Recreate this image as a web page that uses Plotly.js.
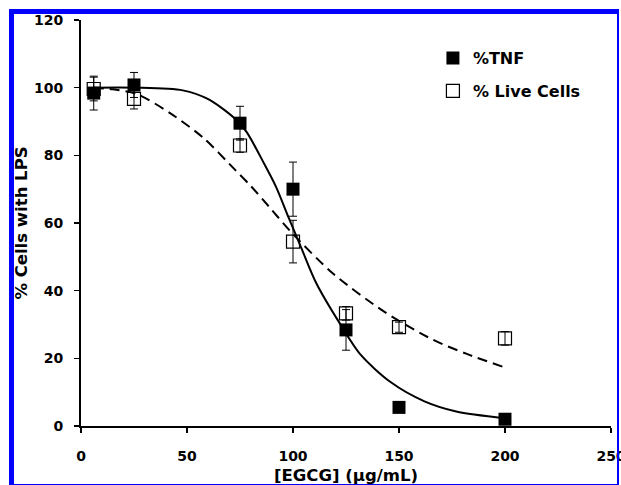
<!DOCTYPE html>
<html>
<head>
<meta charset="utf-8">
<script src="https://cdn.plot.ly/plotly-3.0.1.min.js"></script>
<style>
  html, body { margin: 0; padding: 0; background: #ffffff; }
  #chart { position: absolute; left: 0; top: 0; width: 621px; height: 485px; }
  #frame { position: absolute; left: 9px; top: 9px; width: 610px; height: 476px; box-sizing: border-box;
           border-left: 5px solid #0000ff; border-top: 5px solid #0000ff; border-right: 2px solid #0000ff;
           border-bottom: 1px solid #0000ff; pointer-events: none; }
</style>
</head>
<body>
<div id="chart"></div>
<div id="frame"></div>
<script>
// Measured data
const doseX = [6, 25, 75, 100, 125, 150, 200];
const tnfY = [98.4, 100.8, 89.5, 70, 28.4, 5.5, 2.0];
const tnfErr = [5, 3.7, 5, 8, 6, 0, 0];
const liveY = [99.6, 96.7, 82.9, 54.5, 33.3, 29.2, 25.9];
const liveErr = [3.5, 3, 2, 6.3, 2, 1.5, 2];

// Fitted curves
const tnfFitX = [6, 26, 48, 60, 72, 78, 86, 92, 98, 104, 111, 122, 132, 146, 162, 177, 200];
const tnfFitY = [100, 100, 99.2, 96.6, 91.2, 87, 78, 70.7, 61.5, 52.5, 42.2, 30.4, 21, 13, 7.3, 4.3, 2.3];
const liveFitX = [6, 15, 26, 42, 58, 73, 80, 89, 99, 119, 143, 166, 182, 199];
const liveFitY = [100, 99.5, 98.2, 92.5, 85, 75.5, 71, 64.6, 57.4, 45, 33.8, 25.5, 21.3, 17.5];

const xTicks = [0, 50, 100, 150, 200, 250];
const yTicks = [0, 20, 40, 60, 80, 100, 120];

const traces = [
  { x: tnfFitX, y: tnfFitY, mode: 'lines', type: 'scatter', showlegend: false, hoverinfo: 'skip',
    line: { color: '#000000', width: 2, shape: 'spline', smoothing: 0.8 } },
  { x: liveFitX, y: liveFitY, mode: 'lines', type: 'scatter', showlegend: false, hoverinfo: 'skip',
    line: { color: '#000000', width: 2, dash: '10px,6px', shape: 'spline', smoothing: 0.8 } },
  { x: doseX, y: liveY, name: '% Live Cells', mode: 'markers', type: 'scatter', legendgroup: 'b', legendrank: 2,
    marker: { symbol: 'square-open', size: 13, color: '#000000', line: { width: 1.2, color: '#000000' } },
    error_y: { type: 'data', array: liveErr, visible: true, color: '#000000', thickness: 1, width: 4 } },
  { x: doseX, y: tnfY, name: '%TNF', mode: 'markers', type: 'scatter', legendgroup: 'a', legendrank: 1,
    marker: { symbol: 'square', size: 13, color: '#000000' },
    error_y: { type: 'data', array: tnfErr, visible: true, color: '#000000', thickness: 1, width: 4 } }
];

const tickFont = { family: 'DejaVu Sans', size: 14, color: '#000000', weight: 'bold' };
const titleFont = { family: 'DejaVu Sans', size: 16.5, color: '#000000', weight: 'bold' };

const layout = {
  width: 621, height: 485,
  margin: { l: 81, r: 10, t: 20, b: 59 },
  paper_bgcolor: '#ffffff', plot_bgcolor: '#ffffff',
  showlegend: true,
  legend: { x: 0.664, y: 0.948, xanchor: 'left', yanchor: 'top', bgcolor: 'rgba(0,0,0,0)',
            font: { family: 'DejaVu Sans', size: 16, color: '#000000', weight: 'bold' },
            tracegroupgap: 9, traceorder: 'grouped' },
  xaxis: {
    range: [0, 250], tickvals: xTicks, ticktext: xTicks.map(String),
    showgrid: false, zeroline: false, showline: true, linecolor: '#000000', linewidth: 2,
    ticks: 'outside', ticklen: 5, tickwidth: 1.5, tickcolor: '#000000', tickfont: tickFont,
    ticklabelstandoff: 11, ticklabeloverflow: 'allow', automargin: 'top',
    title: { text: '[EGCG] (μg/mL)', font: titleFont, standoff: 15 }
  },
  yaxis: {
    range: [0, 120], tickvals: yTicks, ticktext: yTicks.map(String),
    showgrid: false, zeroline: false, showline: true, linecolor: '#000000', linewidth: 2,
    ticks: 'outside', ticklen: 5, tickwidth: 1.5, tickcolor: '#000000', tickfont: tickFont,
    ticklabelstandoff: 8, ticklabeloverflow: 'allow', automargin: 'top',
    title: { text: '% Cells with LPS', font: titleFont, standoff: 2 }
  }
};

Plotly.newPlot('chart', traces, layout, { displayModeBar: false, staticPlot: true });
</script>
</body>
</html>
